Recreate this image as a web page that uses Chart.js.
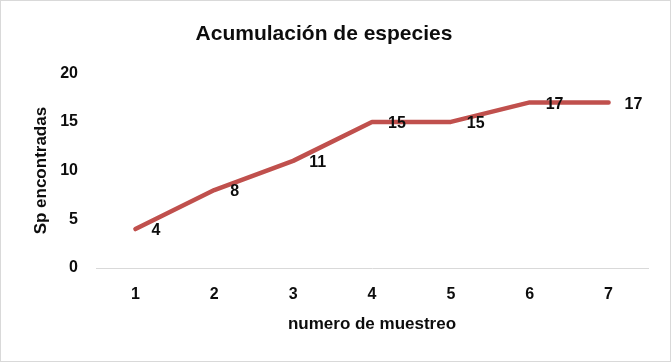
<!DOCTYPE html>
<html>
<head>
<meta charset="utf-8">
<script src="https://cdn.jsdelivr.net/npm/chart.js@4.4.0/dist/chart.umd.min.js"></script>
<style>
  html, body { margin: 0; padding: 0; background: #fff; }
  #wrap { position: relative; width: 671px; height: 362px; }
  #frame {
    position: absolute; left: 0; top: 0; width: 671px; height: 362px;
    box-sizing: border-box; border: 1px solid #d9d9d9; pointer-events: none;
  }
</style>
</head>
<body>
<div id="wrap">
  <canvas id="chart" width="671" height="362"></canvas>
  <div id="frame"></div>
</div>
<script>
// ---- Data ----
var muestreos = ["1", "2", "3", "4", "5", "6", "7"];
var especies  = [4, 8, 11, 15, 15, 17, 17];
var yTicks    = [0, 5, 10, 15, 20];

var FONT = "'Liberation Sans', Arial, sans-serif";
var TEXT = "#0d0d0d";
var LINE = "#C0504D";

// value labels drawn to the right of each point
var valueLabels = {
  id: "valueLabels",
  afterDatasetsDraw: function(chart) {
    var ctx = chart.ctx;
    var meta = chart.getDatasetMeta(0);
    ctx.save();
    ctx.font = "bold 16px " + FONT;
    ctx.fillStyle = TEXT;
    ctx.textAlign = "left";
    ctx.textBaseline = "middle";
    meta.data.forEach(function(pt, i) {
      ctx.fillText(String(especies[i]), pt.x + 16, pt.y + 2);
    });
    ctx.restore();
  },
};

new Chart(document.getElementById("chart"), {
  type: "line",
  data: {
    labels: muestreos,
    datasets: [{
      data:            especies,
      borderColor:     LINE,
      borderWidth:     4.5,
      borderCapStyle:  "round",
      borderJoinStyle: "round",
      pointRadius:     0,
      fill:            false,
      tension:         0,
    }],
  },
  options: {
    responsive: false,
    animation:  false,
    layout: { padding: { left: 0, right: 23, top: 0, bottom: 0 } },
    plugins: {
      legend:  { display: false },
      tooltip: { enabled: false },
      title: {
        display: true,
        text:    "Acumulación de especies",
        color:   TEXT,
        font:    { family: FONT, size: 21, weight: "bold" },
        padding: { top: 22, bottom: 26 },
      },
    },
    scales: {
      x: {
        offset: true,
        grid:   { display: false, drawTicks: false },
        border: { display: true, color: "#d9d9d9", width: 1 },
        ticks:  { color: TEXT, padding: 17, font: { family: FONT, size: 16, weight: "bold" } },
        title:  {
          display: true,
          text:    "numero de muestreo",
          color:   TEXT,
          font:    { family: FONT, size: 17, weight: "bold" },
          padding: { top: 0, bottom: 27 },
        },
        afterFit: function(scale) { scale.height = 94; },
      },
      y: {
        min: 0,
        max: 20,
        afterBuildTicks: function(scale) {
          scale.ticks = yTicks.map(function(v) { return { value: v }; });
        },
        grid:   { display: false, drawTicks: false },
        border: { display: false },
        ticks:  { color: TEXT, padding: 18, font: { family: FONT, size: 16, weight: "bold" } },
        title:  {
          display: true,
          text:    "Sp encontradas",
          color:   TEXT,
          font:    { family: FONT, size: 17, weight: "bold" },
          padding: { top: 31, bottom: 0 },
        },
        afterFit: function(scale) { scale.width = 96; },
      },
    },
  },
  plugins: [valueLabels],
});
</script>
</body>
</html>
